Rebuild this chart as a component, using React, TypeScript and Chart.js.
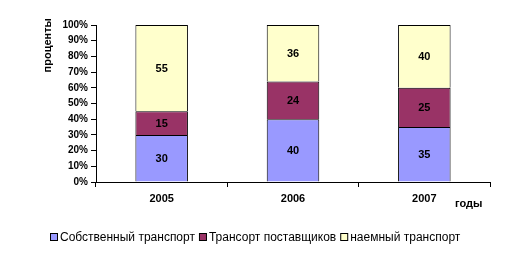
import React, { useEffect, useRef } from "react";
import { Chart, registerables } from "chart.js";

Chart.register(...registerables);

const categories = ["2005", "2006", "2007"];
const ownTransport = [30, 40, 35];
const supplierTransport = [15, 24, 25];
const hiredTransport = [55, 36, 40];
const seriesNames = ["Собственный транспорт", "Трансорт поставщиков", "наемный транспорт"];
const seriesColors = ["#9999FF", "#993366", "#FFFFCC"];
const yTitle = "проценты";
const xTitle = "годы";

const FONT = "'Liberation Sans', Arial, sans-serif";

const labelsPlugin = {
  id: "segLabels",
  afterDatasetsDraw(chart: any) {
    const ctx = chart.ctx;
    ctx.save();
    ctx.font = `bold 11px ${FONT}`;
    ctx.fillStyle = "#000";
    ctx.textAlign = "center";
    ctx.textBaseline = "middle";
    chart.data.datasets.forEach((ds: any, i: number) => {
      const meta = chart.getDatasetMeta(i);
      meta.data.forEach((bar: any, j: number) => {
        const y = (bar.y + bar.base) / 2;
        ctx.fillText(String(ds.data[j]), bar.x, y + 1);
      });
    });
    // axis titles
    ctx.font = `bold 11px ${FONT}`;
    ctx.textAlign = "left";
    ctx.fillText(xTitle, 455, 204);
    ctx.save();
    ctx.translate(48, 18);
    ctx.rotate(-Math.PI / 2);
    ctx.textAlign = "right";
    ctx.fillText(yTitle, 0, 0);
    ctx.restore();

    // legend
    ctx.font = `12px ${FONT}`;
    const box = 7;
    const gapText = 3;
    const gapItem = 4;
    const widths = chart.data.datasets.map((ds: any) => ctx.measureText(ds.label).width);
    const total =
      widths.reduce((a: number, w: number) => a + w + box + gapText, 0) + gapItem * (widths.length - 1);
    let x = Math.round((chart.width - total) / 2) + 2;
    const yc = 237;
    ctx.textAlign = "left";
    chart.data.datasets.forEach((ds: any, i: number) => {
      ctx.fillStyle = ds.backgroundColor;
      ctx.fillRect(x + 0.5, yc - 3.5, box, box);
      ctx.strokeStyle = "#000";
      ctx.lineWidth = 1;
      ctx.strokeRect(x + 0.5, yc - 3.5, box, box);
      ctx.fillStyle = "#000";
      ctx.fillText(ds.label, x + box + gapText, yc + 1);
      x += box + gapText + widths[i] + gapItem;
    });
    ctx.restore();
  },
};

export default function App() {
  const ref = useRef<HTMLCanvasElement>(null);
  useEffect(() => {
    document.body.style.margin = "0";
    const chart = new Chart(ref.current!, {
      type: "bar",
      data: {
        labels: categories,
        datasets: [ownTransport, supplierTransport, hiredTransport].map((data, i) => ({
          label: seriesNames[i],
          data,
          backgroundColor: seriesColors[i],
          borderColor: "#000",
          borderWidth: 1,
          barPercentage: 0.4,
          categoryPercentage: 1,
        })),
      },
      options: {
        animation: false,
        responsive: false,
        layout: { padding: { top: 25, right: 16, left: 0, bottom: 34 } },
        plugins: {
          tooltip: { enabled: false },
          legend: { display: false },
        },
        scales: {
          x: {
            stacked: true,
            afterFit: (s: any) => {
              s.height = 40;
            },
            border: { color: "#000", width: 1 },
            grid: { display: true, drawOnChartArea: false, tickLength: 5, color: "#000", offset: true },
            ticks: { font: { family: FONT, size: 11, weight: "bold" }, color: "#000", padding: 5 },
          },
          y: {
            stacked: true,
            min: 0,
            max: 100,
            afterFit: (s: any) => {
              s.width = 96;
            },
            border: { color: "#000", width: 1 },
            grid: { display: true, drawOnChartArea: false, tickLength: 5, color: "#000" },
            ticks: {
              stepSize: 10,
              autoSkip: false,
              font: { family: FONT, size: 10, weight: "bold" },
              color: "#000",
              padding: 3,
              callback: (v: any) => v + "%",
            },
          },
        },
      },
      plugins: [labelsPlugin],
    } as any);
    return () => chart.destroy();
  }, []);
  return <canvas ref={ref} width={506} height={256} style={{ display: "block" }} />;
}
